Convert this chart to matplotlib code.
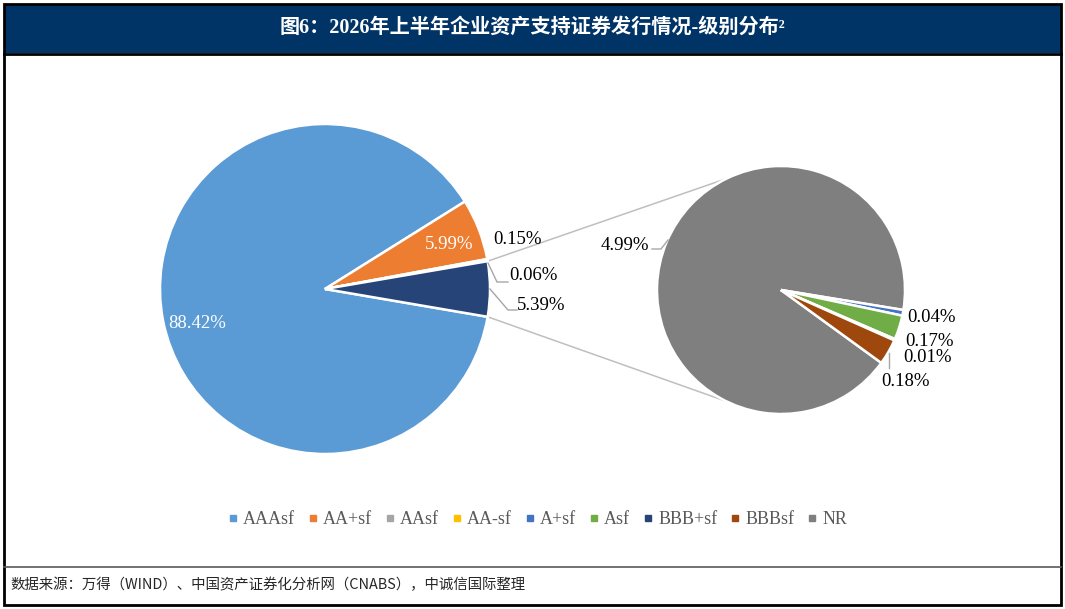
import numpy as np
import matplotlib

matplotlib.use("Agg")
import matplotlib.pyplot as plt
from matplotlib.lines import Line2D
from matplotlib.patches import Rectangle

# rating shares (%) of enterprise ABS issued in H1 2026
grades = ["AAAsf", "AA+sf", "AAsf", "AA-sf", "A+sf", "Asf", "BBB+sf", "BBBsf", "NR"]
shares = [88.42, 5.99, 0.15, 0.06, 0.04, 0.17, 0.01, 0.18, 4.99]
colors = ["#5B9BD5", "#ED7D31", "#A5A5A5", "#FFC000", "#4472C4",
          "#70AD47", "#264478", "#9E480E", "#7F7F7F"]

main_grades = ["AAAsf", "AA+sf", "AAsf", "AA-sf"]
sub_grades = ["NR", "A+sf", "Asf", "BBB+sf", "BBBsf"]

title = "图6：2026年上半年企业资产支持证券发行情况-级别分布²"
source = "数据来源：万得（WIND）、中国资产证券化分析网（CNABS），中诚信国际整理"

W, H = 1065, 609
SERIF = ["Liberation Serif", "Noto Sans CJK SC"]
CJK = ["Noto Sans CJK SC", "DejaVu Sans"]


def Y(ypx):
    return H - ypx


def pt(center, r, ang):
    a = np.deg2rad(ang)
    return center[0] + r * np.cos(a), center[1] + r * np.sin(a)


share = dict(zip(grades, shares))
col = dict(zip(grades, colors))
main_vals = [share[g] for g in main_grades]
other = round(sum(share[g] for g in sub_grades), 2)
main_vals.append(other)
main_cols = [col[g] for g in main_grades] + [col["BBB+sf"]]
sub_vals = [share[g] for g in sub_grades]
sub_cols = [col[g] for g in sub_grades]

fig = plt.figure(figsize=(W / 100, H / 100), dpi=100)
ax = fig.add_axes([0, 0, 1, 1])

c1, r1 = (325, Y(289)), 165
c2, r2 = (781, Y(290)), 124
# the "other" wedge is centred on the horizontal, facing the second pie
other_half = other / 100 * 360 / 2
start1 = other_half + (100 - other) / 100 * 360
wedges1, _ = ax.pie(main_vals, colors=main_cols, center=c1, radius=r1,
                    startangle=start1, counterclock=False,
                    wedgeprops=dict(edgecolor="white", linewidth=1.8))
start2 = -36
wedges2, _ = ax.pie(sub_vals, colors=sub_cols, center=c2, radius=r2,
                    startangle=start2, counterclock=False,
                    wedgeprops=dict(edgecolor="white", linewidth=1.8))

# connector lines between the two pies
lc = "#BFBFBF"
for s in (1, -1):
    p1 = pt(c1, r1, s * other_half)
    p2 = pt(c2, r2, s * 116)
    ax.plot([p1[0], p2[0]], [p1[1], p2[1]], color=lc, lw=1.1, zorder=0)

lab_kw = dict(fontsize=13.5, family=SERIF, ha="center", va="center")

# labels inside the main pie (angle nudge, radius fraction)
inside = [(4, 0.8), (-1.5, 0.8)]
for w, v, (da, rf) in zip(wedges1[:2], main_vals[:2], inside):
    mid = (w.theta1 + w.theta2) / 2 + da
    x, y = pt(c1, r1 * rf, mid)
    ax.text(x, y, "%.2f%%" % v, color="white", **lab_kw)

# outside labels: (text position px, leader points px)
outside = [
    (main_vals[2], (517, 240), []),
    (main_vals[3], (533, 276), [(488, 263), (497, 282), (508, 282)]),
    (main_vals[4], (541, 305), [(490, 289), (508, 310), (517, 310)]),
    (sub_vals[0], (625, 246), [(668, 240), (661, 249), (652, 249)]),
    (sub_vals[1], (931, 317), []),
    (sub_vals[2], (930, 341), []),
    (sub_vals[3], (927, 357), []),
    (sub_vals[4], (906, 381), [(889, 353), (889, 368)]),
]
for v, (tx, ty), lead in outside:
    ax.text(tx, Y(ty), "%.2f%%" % v, color="black", **lab_kw)
    if lead:
        xs, ys = zip(*lead)
        ax.plot(xs, [Y(y) for y in ys], color="#A6A6A6", lw=1.0)

# legend
handles = [Line2D([], [], marker="s", ls="none", markersize=5,
                  markerfacecolor=col[g], markeredgecolor=col[g]) for g in grades]
leg = ax.legend(handles, grades, loc="center", bbox_to_anchor=(538 / W, 1 - 520 / H),
                ncol=len(grades), frameon=False, handlelength=0.5, handletextpad=0.3,
                columnspacing=0.75, prop=dict(family=SERIF, size=13))
for t in leg.get_texts():
    t.set_color("#595959")

# frame, title bar and footer
ax.add_patch(Rectangle((4, Y(53)), W - 8, 49, facecolor="#003366",
                       edgecolor="none", zorder=3))
ax.add_patch(Rectangle((4, Y(605)), W - 8, 601, facecolor="none",
                       edgecolor="black", lw=2, zorder=4))
ax.plot([4, W - 4], [Y(54), Y(54)], color="black", lw=2, zorder=4)
ax.plot([4, W - 4], [Y(567), Y(567)], color="#595959", lw=1.2, zorder=4)
ax.text(W / 2, Y(28), title, color="white", fontsize=14.5, fontweight="bold",
        family=SERIF, ha="center", va="center", zorder=5)
ax.text(10, Y(585), source, color="#262626", fontsize=10.4, family=CJK,
        style="italic", ha="left", va="center", zorder=5)

ax.set_xlim(0, W)
ax.set_ylim(0, H)
ax.set_aspect("auto")
ax.axis("off")
fig.savefig("out.png", dpi=100)
